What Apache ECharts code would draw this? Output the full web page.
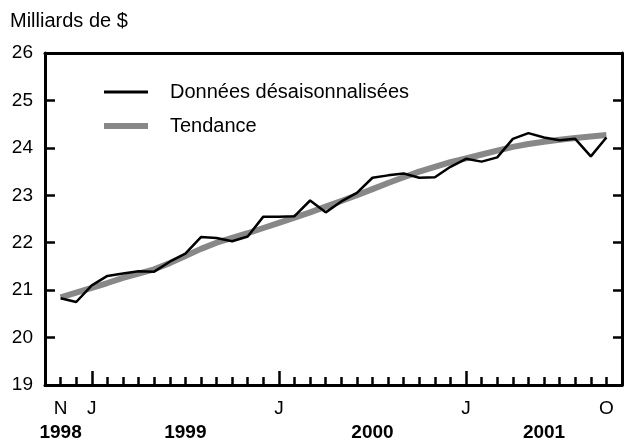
<!DOCTYPE html>
<html>
<head>
<meta charset="utf-8">
<script src="https://cdn.jsdelivr.net/npm/echarts@6/dist/echarts.min.js"></script>
<style>
  html, body { margin: 0; padding: 0; background: #fff; }
  #chart { width: 626px; height: 442px; }
</style>
</head>
<body>
<div id="chart"></div>
<script>
// axis runs Oct 1998 .. Nov 2001, data Nov 1998 .. Oct 2001
const monthLabels = ['', 'N', '', 'J', '', '', '', '', '', '', '', '', '', '', '',
                     'J', '', '', '', '', '', '', '', '', '', '', '',
                     'J', '', '', '', '', '', '', '', '', 'O', ''];
const yearLabels = ['', '1998', '', '', '', '', '', '', '', '1999', '', '', '', '', '',
                    '', '', '', '', '', '', '2000', '', '', '', '', '',
                    '', '', '', '', '', '2001', '', '', '', '', ''];

const seasAdj = [20.83, 20.75, 21.10, 21.30, 21.35, 21.40, 21.39, 21.60, 21.77, 22.12, 22.10, 22.03,
                 22.13, 22.55, 22.55, 22.56, 22.89, 22.64, 22.87, 23.05, 23.37, 23.42, 23.46, 23.37,
                 23.38, 23.60, 23.77, 23.71, 23.80, 24.19, 24.31, 24.22, 24.16, 24.19, 23.82, 24.22];
const trend = [20.85, 20.95, 21.05, 21.15, 21.26, 21.35, 21.44, 21.57, 21.72, 21.87, 22.00, 22.10,
               22.20, 22.31, 22.42, 22.53, 22.64, 22.76, 22.88, 23.00, 23.13, 23.26, 23.38, 23.50,
               23.60, 23.70, 23.78, 23.86, 23.94, 24.02, 24.08, 24.13, 24.17, 24.21, 24.24, 24.27];

const FONT = '"Liberation Sans", Arial, sans-serif';
const pad = arr => [null].concat(arr, [null]);

var chart = echarts.init(document.getElementById('chart'));
var option = {
    animation: false,
    title: {
        text: 'Milliards de $',
        left: 5,
        top: 6,
        textStyle: { fontFamily: FONT, fontSize: 20, fontWeight: 'normal', color: '#000' }
    },
    legend: {
        orient: 'vertical',
        left: 99,
        top: 77,
        itemWidth: 44,
        itemHeight: 14,
        itemGap: 14,
        data: [
            { name: 'Données désaisonnalisées', icon: 'path://M0,0L0,0M44,14L44,14M0,5.6L44,5.6L44,8.4L0,8.4Z' },
            { name: 'Tendance', icon: 'path://M0,0L0,0M44,14L44,14M0,4L44,4L44,10L0,10Z' }
        ],
        textStyle: { fontFamily: FONT, fontSize: 20, color: '#000', padding: [0, 0, 0, 17] }
    },
    grid: { left: 45, right: 4, top: 53, bottom: 57 },
    xAxis: [
        {
            type: 'category',
            data: monthLabels,
            boundaryGap: false,
            position: 'bottom',
            axisLine: { lineStyle: { color: '#000', width: 3 } },
            axisTick: { inside: true, length: 8, interval: 0, lineStyle: { color: '#000', width: 2.5 } },
            axisLabel: { interval: 0, margin: 14, color: '#000', fontFamily: FONT, fontSize: 19 },
            splitLine: { show: false }
        },
        {
            type: 'category',
            data: yearLabels,
            boundaryGap: false,
            position: 'bottom',
            axisLine: { show: false },
            axisTick: {
                inside: true, length: 14,
                interval: function (i) { return monthLabels[i] === 'J'; },
                lineStyle: { color: '#000', width: 2.5 }
            },
            axisLabel: { interval: 0, margin: 38, color: '#000', fontFamily: FONT, fontSize: 19, fontWeight: 'bold' },
            splitLine: { show: false }
        },
        {
            type: 'category',
            data: monthLabels,
            boundaryGap: false,
            position: 'top',
            axisLine: { lineStyle: { color: '#000', width: 3 } },
            axisTick: { show: false },
            axisLabel: { show: false },
            splitLine: { show: false }
        }
    ],
    yAxis: [
        {
            type: 'value',
            min: 19,
            max: 26,
            interval: 1,
            position: 'left',
            axisLine: { show: true, lineStyle: { color: '#000', width: 3 } },
            axisTick: { show: true, inside: true, length: 10, lineStyle: { color: '#000', width: 2.5 } },
            axisLabel: { margin: 12, color: '#000', fontFamily: FONT, fontSize: 19 },
            splitLine: { show: false }
        },
        {
            type: 'value',
            min: 19,
            max: 26,
            interval: 1,
            position: 'right',
            axisLine: { show: true, lineStyle: { color: '#000', width: 3 } },
            axisTick: { show: true, inside: true, length: 9, lineStyle: { color: '#000', width: 2.5 } },
            axisLabel: { show: false },
            splitLine: { show: false }
        }
    ],
    series: [
        {
            name: 'Tendance',
            type: 'line',
            data: pad(trend),
            symbol: 'none',
            color: '#888888',
            lineStyle: { color: '#888888', width: 6 }
        },
        {
            name: 'Données désaisonnalisées',
            type: 'line',
            data: pad(seasAdj),
            symbol: 'none',
            color: '#000000',
            lineStyle: { color: '#000000', width: 2.5 }
        }
    ]
};
chart.setOption(option);
</script>
</body>
</html>
